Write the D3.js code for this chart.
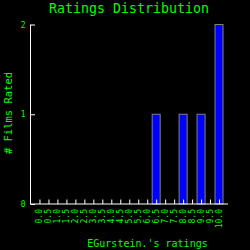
<!DOCTYPE html>
<html>
<head>
<meta charset="utf-8">
<script src="https://cdn.jsdelivr.net/npm/d3@7"></script>
<style>
  html, body { margin: 0; padding: 0; background: #000; }
  svg { display: block; }
  text { font-family: "DejaVu Sans Mono", monospace; fill: #00ff00; }
</style>
</head>
<body>
<div id="chart"></div>
<script>
// rating buckets and how many films fell in each
const ratings = ["0.0", "0.5", "1.0", "1.5", "2.0", "2.5", "3.0", "3.5", "4.0", "4.5",
                 "5.0", "5.5", "6.0", "6.5", "7.0", "7.5", "8.0", "8.5", "9.0", "9.5", "10.0"];
const counts = [0, 0, 0, 0, 0, 0, 0, 0, 0, 0, 0, 0, 0, 1, 0, 0, 1, 0, 1, 0, 2];
const yTicks = [0, 1, 2];

const width = 250, height = 250;
// plot edges (note: "top" is taken by window.top)
const plotLeft = 30.5, plotRight = 228, plotTop = 24.5, plotBottom = 204;

const svg = d3.select("#chart").append("svg")
    .attr("width", width)
    .attr("height", height);

svg.append("rect")
    .attr("width", width)
    .attr("height", height)
    .attr("fill", "#000");

const x = d3.scalePoint()
    .domain(ratings)
    .range([plotLeft, plotRight])
    .padding(1);

const y = d3.scaleLinear()
    .domain([0, 2])
    .range([plotBottom, plotTop]);

// bars
svg.append("g")
    .selectAll("rect")
    .data(ratings.map((r, i) => ({rating: r, count: counts[i]})).filter(d => d.count > 0))
    .enter().append("rect")
        .attr("x", d => x(d.rating) - 4)
        .attr("y", d => y(d.count))
        .attr("width", 8)
        .attr("height", d => y(0) - y(d.count))
        .attr("fill", "#0000ff")
        .attr("stroke", "#808080")
        .attr("stroke-width", 1);

// x axis, ticks point up into the plot
const xAxis = svg.append("g")
    .attr("transform", "translate(0," + plotBottom + ")")
    .call(d3.axisTop(x).tickSize(4.5).tickSizeOuter(0));
xAxis.select(".domain").attr("d", "M" + plotLeft + ",0H" + plotRight);
xAxis.selectAll("text").remove();
xAxis.selectAll("line, path").attr("stroke", "#fff");

svg.append("g")
    .selectAll("text")
    .data(ratings)
    .enter().append("text")
        .attr("transform", d => "translate(" + x(d) + "," + (plotBottom + 5) + ") rotate(-90)")
        .attr("dy", "0.35em")
        .attr("text-anchor", "end")
        .attr("font-size", "8px")
        .text(d => d);

// y axis, ticks point right into the plot
const yAxis = svg.append("g")
    .attr("transform", "translate(" + plotLeft + ",0)")
    .call(d3.axisRight(y).tickValues(yTicks).tickSize(4.5).tickSizeOuter(0).tickFormat(d3.format("d")));
yAxis.select(".domain").attr("d", "M0," + plotTop + "V" + plotBottom);
yAxis.selectAll("line, path").attr("stroke", "#fff");
yAxis.selectAll("text")
    .attr("x", -5)
    .attr("text-anchor", "end")
    .attr("font-size", "8px")
    .attr("fill", "#00ff00");

// titles
svg.append("text")
    .attr("x", 129)
    .attr("y", 13)
    .attr("text-anchor", "middle")
    .attr("font-size", "13.3px")
    .text("Ratings Distribution");

svg.append("text")
    .attr("transform", "translate(11.5,113) rotate(-90)")
    .attr("text-anchor", "middle")
    .attr("font-size", "10.5px")
    .text("# Films Rated");

svg.append("text")
    .attr("x", 147.5)
    .attr("y", 247)
    .attr("text-anchor", "middle")
    .attr("font-size", "10px")
    .text("EGurstein.'s ratings");
</script>
</body>
</html>
